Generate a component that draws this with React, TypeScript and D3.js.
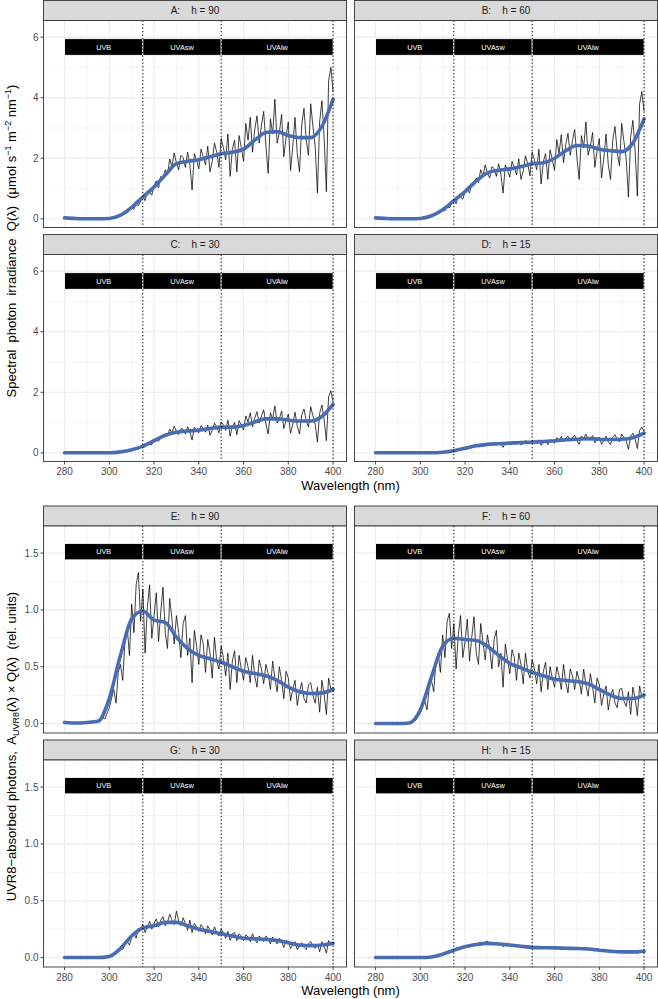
import React from "react";
import * as d3 from "d3";

const FONT = "'Liberation Sans', Arial, Helvetica, sans-serif";

// ---------- categories / ticks ----------
const BAND_NAMES = ["UVB", "UVAsw", "UVAlw"];
const BAND_EDGES = [280, 315, 350, 400];
const X_TICKS = [280, 300, 320, 340, 360, 380, 400];
const X_MINOR = [290, 310, 330, 350, 370, 390];
const Q_TICKS = [0, 2, 4, 6];
const Q_TICK_LABELS = ["0", "2", "4", "6"];
const Q_MINOR = [1, 3, 5];
const U_TICKS = [0, 0.5, 1, 1.5];
const U_TICK_LABELS = ["0.0", "0.5", "1.0", "1.5"];
const U_MINOR = [0.25, 0.75, 1.25];
const PANEL_LABELS = ["A:    h = 90", "B:    h = 60", "C:    h = 30", "D:    h = 15", "E:    h = 90", "F:    h = 60", "G:    h = 30", "H:    h = 15"];

// ---------- wavelength grids ----------
const WL_RAW = d3.range(295, 401, 1);      // 295..400 nm, 1 nm
const WL_SMOOTH = d3.range(280, 401, 5);   // 280..400 nm, 5 nm

// ---------- raw spectra (295..400 nm) ----------
const rawA = [0, 0.01, 0, 0.02, 0.01,
  0.03, 0.05, 0.08, 0.06, 0.12, 0.10, 0.18, 0.24, 0.19, 0.30,
  0.36, 0.31, 0.50, 0.42, 0.58, 0.75, 0.60, 0.92, 0.88, 0.78,
  1.10, 1.25, 1.02, 1.40, 1.32, 1.62, 1.45, 1.98, 1.72, 2.18,
  1.85, 1.62, 2.10, 2.02, 1.70, 2.20, 1.80, 0.95, 2.15, 1.95,
  1.65, 2.30, 2.05, 1.78, 2.40, 1.55, 1.90, 2.50, 2.20, 1.70,
  2.65, 2.35, 1.95, 2.80, 1.40, 2.30, 2.60, 1.55, 2.75, 2.35,
  1.90, 3.15, 2.60, 3.35, 2.20, 2.95, 3.40, 2.50, 3.10, 3.55,
  2.40, 1.50, 3.30, 2.80, 3.95, 2.50, 2.85, 3.45, 2.05, 2.70,
  3.20, 1.60, 2.40, 3.35, 2.15, 1.55, 3.10, 3.65, 2.60, 2.10,
  3.80, 3.05, 2.40, 0.85, 3.20, 3.90, 2.70, 0.90, 4.55, 5.00,
  4.20];
const rawB = [0, 0.01, 0, 0.01, 0.02,
  0.02, 0.04, 0.07, 0.05, 0.10, 0.08, 0.15, 0.20, 0.16, 0.26,
  0.30, 0.26, 0.42, 0.36, 0.50, 0.62, 0.50, 0.76, 0.72, 0.65,
  0.90, 1.02, 0.85, 1.16, 1.10, 1.35, 1.20, 1.62, 1.42, 1.78,
  1.52, 1.35, 1.72, 1.66, 1.40, 1.82, 1.48, 0.85, 1.78, 1.60,
  1.38, 1.90, 1.70, 1.45, 1.98, 1.30, 1.58, 2.08, 1.82, 1.42,
  2.20, 1.95, 1.62, 2.30, 1.15, 1.90, 2.15, 1.30, 2.28, 1.95,
  1.60, 2.62, 2.15, 2.78, 1.85, 2.45, 2.82, 2.10, 2.58, 2.95,
  2.00, 1.30, 2.75, 2.35, 3.20, 2.10, 2.40, 2.85, 1.70, 2.25,
  2.65, 1.35, 2.00, 2.80, 1.80, 1.30, 2.60, 3.05, 2.20, 1.75,
  3.15, 2.55, 2.00, 0.72, 2.70, 3.25, 2.25, 0.75, 3.80, 4.20,
  3.55];
const rawC = [0, 0, 0, 0, 0,
  0, 0.01, 0.01, 0.02, 0.02, 0.03, 0.04, 0.06, 0.06, 0.09,
  0.10, 0.09, 0.14, 0.13, 0.18, 0.22, 0.19, 0.28, 0.30, 0.27,
  0.40, 0.45, 0.38, 0.52, 0.50, 0.62, 0.56, 0.78, 0.66, 0.88,
  0.70, 0.60, 0.80, 0.78, 0.62, 0.86, 0.70, 0.42, 0.84, 0.76,
  0.66, 0.90, 0.80, 0.68, 0.92, 0.58, 0.74, 0.98, 0.86, 0.66,
  1.02, 0.92, 0.74, 1.08, 0.55, 0.88, 1.00, 0.60, 1.06, 0.92,
  0.76, 1.22, 1.02, 1.32, 0.86, 1.15, 1.36, 0.98, 1.22, 1.42,
  0.95, 0.62, 1.32, 1.12, 1.55, 0.98, 1.12, 1.38, 0.80, 1.08,
  1.28, 0.65, 0.95, 1.34, 0.88, 0.62, 1.25, 1.45, 1.05, 0.85,
  1.52, 1.22, 0.95, 0.35, 1.30, 1.58, 1.10, 0.40, 1.85, 2.05,
  1.70];
const rawD = [0, 0, 0, 0, 0,
  0, 0, 0, 0.01, 0, 0.01, 0.01, 0.02, 0.01, 0.02,
  0.03, 0.02, 0.04, 0.05, 0.04, 0.07, 0.08, 0.10, 0.12, 0.11,
  0.15, 0.17, 0.15, 0.20, 0.22, 0.24, 0.21, 0.28, 0.26, 0.31,
  0.28, 0.25, 0.32, 0.30, 0.26, 0.34, 0.29, 0.18, 0.34, 0.31,
  0.27, 0.36, 0.33, 0.28, 0.38, 0.26, 0.31, 0.40, 0.36, 0.29,
  0.41, 0.38, 0.31, 0.43, 0.25, 0.36, 0.41, 0.27, 0.44, 0.38,
  0.32, 0.50, 0.42, 0.54, 0.36, 0.48, 0.55, 0.40, 0.50, 0.58,
  0.40, 0.28, 0.55, 0.47, 0.62, 0.41, 0.47, 0.57, 0.33, 0.44,
  0.52, 0.28, 0.40, 0.55, 0.37, 0.27, 0.51, 0.60, 0.44, 0.36,
  0.62, 0.50, 0.40, 0.12, 0.54, 0.65, 0.45, 0.14, 0.74, 0.85,
  0.70];
const rawE = [0.02, 0.03, 0.05, 0.04, 0.09,
  0.14, 0.22, 0.30, 0.18, 0.45, 0.52, 0.38, 0.72, 0.85, 0.60,
  1.05, 0.80, 1.22, 1.33, 0.90, 1.18, 0.62, 1.02, 1.22, 0.75,
  0.95, 1.15, 0.72, 0.98, 1.20, 0.80, 0.66, 1.10, 0.92, 0.70,
  0.95, 0.80, 0.58, 0.88, 0.95, 0.60, 0.75, 0.36, 0.82, 0.68,
  0.52, 0.78, 0.70, 0.45, 0.74, 0.62, 0.40, 0.76, 0.55, 0.48,
  0.68, 0.58, 0.42, 0.62, 0.30, 0.55, 0.64, 0.36, 0.60, 0.48,
  0.38, 0.58, 0.50, 0.36, 0.60, 0.42, 0.32, 0.56, 0.48, 0.35,
  0.52, 0.44, 0.30, 0.55, 0.40, 0.28, 0.50, 0.38, 0.22, 0.46,
  0.40, 0.20, 0.30, 0.38, 0.16, 0.28, 0.36, 0.22, 0.18, 0.34,
  0.36, 0.25, 0.18, 0.32, 0.10, 0.38, 0.26, 0.08, 0.40, 0.30,
  0.32];
const rawF = [0.01, 0.02, 0.03, 0.03, 0.06,
  0.09, 0.15, 0.20, 0.12, 0.32, 0.38, 0.28, 0.55, 0.62, 0.45,
  0.78, 0.58, 0.90, 0.97, 0.66, 0.88, 0.48, 0.78, 0.95, 0.58,
  0.72, 0.92, 0.55, 0.76, 0.94, 0.62, 0.52, 0.88, 0.72, 0.56,
  0.78, 0.66, 0.48, 0.74, 0.82, 0.50, 0.62, 0.32, 0.70, 0.56,
  0.44, 0.65, 0.58, 0.38, 0.62, 0.52, 0.35, 0.62, 0.46, 0.40,
  0.56, 0.48, 0.35, 0.52, 0.28, 0.46, 0.54, 0.30, 0.50, 0.40,
  0.32, 0.50, 0.42, 0.30, 0.52, 0.36, 0.27, 0.48, 0.42, 0.30,
  0.46, 0.38, 0.26, 0.48, 0.34, 0.24, 0.44, 0.32, 0.18, 0.40,
  0.34, 0.16, 0.26, 0.33, 0.12, 0.24, 0.30, 0.18, 0.14, 0.30,
  0.31, 0.20, 0.15, 0.28, 0.08, 0.32, 0.22, 0.07, 0.33, 0.24,
  0.27];
const rawG = [0, 0, 0, 0, 0.005,
  0.01, 0.02, 0.03, 0.04, 0.06, 0.08, 0.07, 0.12, 0.14, 0.11,
  0.18, 0.21, 0.17, 0.26, 0.24, 0.29, 0.22, 0.27, 0.32, 0.25,
  0.30, 0.34, 0.27, 0.33, 0.36, 0.28, 0.31, 0.38, 0.33, 0.29,
  0.41, 0.32, 0.28, 0.35, 0.30, 0.24, 0.33, 0.22, 0.30, 0.27,
  0.23, 0.29, 0.26, 0.21, 0.28, 0.24, 0.20, 0.27, 0.22, 0.19,
  0.25, 0.22, 0.17, 0.23, 0.15, 0.21, 0.22, 0.15, 0.21, 0.19,
  0.15, 0.20, 0.18, 0.14, 0.21, 0.16, 0.13, 0.19, 0.17, 0.14,
  0.19, 0.16, 0.12, 0.18, 0.15, 0.12, 0.17, 0.14, 0.09, 0.15,
  0.14, 0.08, 0.11, 0.14, 0.07, 0.10, 0.13, 0.09, 0.07, 0.12,
  0.14, 0.10, 0.08, 0.12, 0.05, 0.14, 0.10, 0.04, 0.15, 0.12,
  0.13];
const rawH = [0, 0, 0, 0, 0,
  0, 0, 0, 0.005, 0.005, 0.01, 0.01, 0.015, 0.02, 0.025,
  0.03, 0.035, 0.045, 0.05, 0.055, 0.065, 0.06, 0.08, 0.085, 0.08,
  0.10, 0.105, 0.095, 0.115, 0.12, 0.11, 0.125, 0.135, 0.12, 0.14,
  0.145, 0.125, 0.13, 0.12, 0.135, 0.11, 0.12, 0.095, 0.125, 0.11,
  0.10, 0.115, 0.11, 0.095, 0.11, 0.10, 0.088, 0.105, 0.095, 0.085,
  0.10, 0.092, 0.08, 0.095, 0.075, 0.09, 0.096, 0.078, 0.094, 0.088,
  0.078, 0.092, 0.088, 0.075, 0.094, 0.08, 0.072, 0.09, 0.085, 0.074,
  0.088, 0.082, 0.07, 0.088, 0.078, 0.068, 0.082, 0.074, 0.058, 0.076,
  0.07, 0.055, 0.06, 0.068, 0.048, 0.058, 0.062, 0.05, 0.045, 0.058,
  0.062, 0.05, 0.044, 0.055, 0.036, 0.062, 0.05, 0.034, 0.064, 0.058,
  0.06];

// ---------- smoothed fits (280..400 nm, 5 nm) ----------
const smoothA = [0.03, 0.01, 0, 0, 0.01, 0.12, 0.38, 0.72, 1.05, 1.45, 1.82, 1.9, 1.95, 2.05, 2.15, 2.2, 2.3, 2.6, 2.85, 2.88, 2.75, 2.68, 2.68, 3.05, 3.95];
const smoothB = [0.03, 0.01, 0, 0, 0.01, 0.1, 0.3, 0.6, 0.9, 1.25, 1.52, 1.6, 1.65, 1.72, 1.82, 1.85, 2.0, 2.25, 2.42, 2.4, 2.3, 2.25, 2.22, 2.5, 3.3];
const smoothC = [0, 0, 0, 0, 0, 0.03, 0.1, 0.22, 0.4, 0.58, 0.68, 0.72, 0.75, 0.8, 0.85, 0.85, 0.9, 1.02, 1.12, 1.12, 1.08, 1.05, 1.05, 1.2, 1.6];
const smoothD = [0, 0, 0, 0, 0, 0, 0.02, 0.07, 0.15, 0.23, 0.28, 0.3, 0.32, 0.34, 0.35, 0.37, 0.4, 0.43, 0.45, 0.47, 0.45, 0.44, 0.45, 0.5, 0.65];
const smoothE = [0.01, 0.005, 0.01, 0.02, 0.22, 0.6, 0.92, 0.99, 0.91, 0.89, 0.76, 0.66, 0.6, 0.57, 0.54, 0.5, 0.46, 0.44, 0.42, 0.38, 0.32, 0.28, 0.265, 0.27, 0.3];
const smoothF = [0, 0, 0, 0.005, 0.12, 0.41, 0.68, 0.75, 0.74, 0.73, 0.68, 0.6, 0.53, 0.49, 0.45, 0.42, 0.39, 0.38, 0.37, 0.35, 0.3, 0.25, 0.22, 0.22, 0.25];
const smoothG = [0, 0, 0, 0, 0.01, 0.08, 0.19, 0.26, 0.28, 0.31, 0.31, 0.28, 0.25, 0.23, 0.21, 0.19, 0.17, 0.165, 0.16, 0.15, 0.13, 0.11, 0.105, 0.11, 0.125];
const smoothH = [0, 0, 0, 0, 0, 0.005, 0.03, 0.065, 0.095, 0.115, 0.125, 0.12, 0.11, 0.1, 0.09, 0.087, 0.085, 0.082, 0.08, 0.075, 0.065, 0.055, 0.05, 0.05, 0.055];

const RAW = [rawA, rawB, rawC, rawD, rawE, rawF, rawG, rawH];
const SMOOTH = [smoothA, smoothB, smoothC, smoothD, smoothE, smoothF, smoothG, smoothH];

// ---------- layout ----------
const W = 658, H = 999;
const COL_X = [43.5, 354.5];
const PANEL_W = 303;
const STRIP_H = 20;
const PLOT_H = 207;
const ROW_TOP = [0.5, 234.5, 506, 740];
const X_DOMAIN = [270.6, 406];
const Q_DOMAIN = [-0.287, 6.55];
const U_DOMAIN = [-0.083, 1.738];
const Q_BAR = [5.4, 5.95];
const U_BAR = [1.44, 1.585];
const BLUE = "#4A6CB3";
const GRID = "#EBEBEB";
const DARK = "#333333";

function Panel({ idx }: { idx: number }) {
  const row = Math.floor(idx / 2);
  const col = idx % 2;
  const isQ = row < 2;
  const x0 = COL_X[col];
  const stripTop = ROW_TOP[row];
  const top = stripTop + STRIP_H;
  const bottom = top + PLOT_H;
  const x = d3.scaleLinear().domain(X_DOMAIN).range([x0, x0 + PANEL_W]);
  const y = d3.scaleLinear().domain(isQ ? Q_DOMAIN : U_DOMAIN).range([bottom, top]);
  const majors = isQ ? Q_TICKS : U_TICKS;
  const majorLabels = isQ ? Q_TICK_LABELS : U_TICK_LABELS;
  const minors = isQ ? Q_MINOR : U_MINOR;
  const bar = isQ ? Q_BAR : U_BAR;
  const showX = row === 1 || row === 3;
  const showY = col === 0;

  const rawLine = d3.line<number>().x((_, i) => x(WL_RAW[i])).y((d) => y(d));
  const smoothLine = d3.line<number>().x((_, i) => x(WL_SMOOTH[i])).y((d) => y(d)).curve(d3.curveMonotoneX);
  const clipId = `clip-${idx}`;

  return (
    <g>
      <defs>
        <clipPath id={clipId}>
          <rect x={x0} y={top} width={PANEL_W} height={PLOT_H} />
        </clipPath>
      </defs>
      <rect x={x0} y={stripTop} width={PANEL_W} height={STRIP_H} fill="#D9D9D9" stroke={DARK} strokeWidth={0.9} />
      <text x={x0 + PANEL_W / 2} y={stripTop + STRIP_H / 2 + 3.6} textAnchor="middle" fontSize={10} fill="#1A1A1A" fontFamily={FONT} style={{ whiteSpace: "pre" }}>
        {PANEL_LABELS[idx]}
      </text>
      <rect x={x0} y={top} width={PANEL_W} height={PLOT_H} fill="white" />
      {X_MINOR.map((v) => (
        <line key={"xm" + v} x1={x(v)} x2={x(v)} y1={top} y2={bottom} stroke={GRID} strokeWidth={0.55} />
      ))}
      {minors.map((v) => (
        <line key={"ym" + v} x1={x0} x2={x0 + PANEL_W} y1={y(v)} y2={y(v)} stroke={GRID} strokeWidth={0.55} />
      ))}
      {X_TICKS.map((v) => (
        <line key={"xM" + v} x1={x(v)} x2={x(v)} y1={top} y2={bottom} stroke={GRID} strokeWidth={1.1} />
      ))}
      {majors.map((v) => (
        <line key={"yM" + v} x1={x0} x2={x0 + PANEL_W} y1={y(v)} y2={y(v)} stroke={GRID} strokeWidth={1.1} />
      ))}
      <g clipPath={`url(#${clipId})`}>
        <path d={rawLine(RAW[idx]) || ""} fill="none" stroke="black" strokeWidth={0.75} strokeLinejoin="round" />
        <path d={smoothLine(SMOOTH[idx]) || ""} fill="none" stroke={BLUE} strokeWidth={3.6} strokeLinecap="round" strokeLinejoin="round" />
        {BAND_NAMES.map((b, i) => (
          <g key={b}>
            <rect x={x(BAND_EDGES[i])} y={y(bar[1])} width={x(BAND_EDGES[i + 1]) - x(BAND_EDGES[i])} height={y(bar[0]) - y(bar[1])} fill="black" stroke="white" strokeWidth={0.9} />
            <text x={(x(BAND_EDGES[i]) + x(BAND_EDGES[i + 1])) / 2} y={(y(bar[0]) + y(bar[1])) / 2 + 2.6} textAnchor="middle" fontSize={7.3} fill="white" fontFamily={FONT}>
              {b}
            </text>
          </g>
        ))}
        {BAND_EDGES.slice(1).map((v) => (
          <line key={"v" + v} x1={x(v)} x2={x(v)} y1={top} y2={bottom} stroke="black" strokeWidth={1} strokeDasharray="1.3,2.2" />
        ))}
      </g>
      <rect x={x0} y={top} width={PANEL_W} height={PLOT_H} fill="none" stroke={DARK} strokeWidth={0.9} />
      {showY &&
        majors.map((v, i) => (
          <g key={"yt" + v}>
            <line x1={x0 - 3} x2={x0} y1={y(v)} y2={y(v)} stroke={DARK} strokeWidth={0.9} />
            <text x={x0 - 5} y={y(v) + 3.5} textAnchor="end" fontSize={10} fill="#4D4D4D" fontFamily={FONT}>
              {majorLabels[i]}
            </text>
          </g>
        ))}
      {showX &&
        X_TICKS.map((v) => (
          <g key={"xt" + v}>
            <line x1={x(v)} x2={x(v)} y1={bottom} y2={bottom + 3} stroke={DARK} strokeWidth={0.9} />
            <text x={x(v)} y={bottom + 13.5} textAnchor="middle" fontSize={10} fill="#4D4D4D" fontFamily={FONT}>
              {v}
            </text>
          </g>
        ))}
    </g>
  );
}

export default function App() {
  const midX = (COL_X[0] + COL_X[1] + PANEL_W) / 2;
  const upperMidY = (ROW_TOP[0] + STRIP_H + ROW_TOP[1] + STRIP_H + PLOT_H) / 2;
  const lowerMidY = (ROW_TOP[2] + STRIP_H + ROW_TOP[3] + STRIP_H + PLOT_H) / 2;
  const upperBottom = ROW_TOP[1] + STRIP_H + PLOT_H;
  const lowerBottom = ROW_TOP[3] + STRIP_H + PLOT_H;
  return (
    <svg width={W} height={H} style={{ position: "absolute", left: 0, top: 0, display: "block", background: "white" }} fontFamily={FONT}>
      <rect x={0} y={0} width={W} height={H} fill="white" />
      {d3.range(8).map((i) => (
        <Panel key={i} idx={i} />
      ))}
      <text x={midX} y={upperBottom + 28} textAnchor="middle" fontSize={13} fill="black">
        Wavelength (nm)
      </text>
      <text x={midX} y={lowerBottom + 28} textAnchor="middle" fontSize={13} fill="black">
        Wavelength (nm)
      </text>
      <text transform={`translate(15.5,${upperMidY}) rotate(-90)`} textAnchor="middle" fontSize={13} fill="black" style={{ whiteSpace: "pre" }}>
        {"Spectral  photon  irradiance  Q(λ)  (μmol s"}
        <tspan dy={-5} fontSize={9}>−1</tspan>
        <tspan dy={5}>{" m"}</tspan>
        <tspan dy={-5} fontSize={9}>−2</tspan>
        <tspan dy={5}>{" nm"}</tspan>
        <tspan dy={-5} fontSize={9}>−1</tspan>
        <tspan dy={5}>)</tspan>
      </text>
      <text transform={`translate(15.5,${lowerMidY}) rotate(-90)`} textAnchor="middle" fontSize={13} fill="black" style={{ whiteSpace: "pre" }}>
        {"UVR8−absorbed photons,  A"}
        <tspan dy={3} fontSize={9}>UVR8</tspan>
        <tspan dy={-3}>{"(λ) × Q(λ)  (rel. units)"}</tspan>
      </text>
    </svg>
  );
}
